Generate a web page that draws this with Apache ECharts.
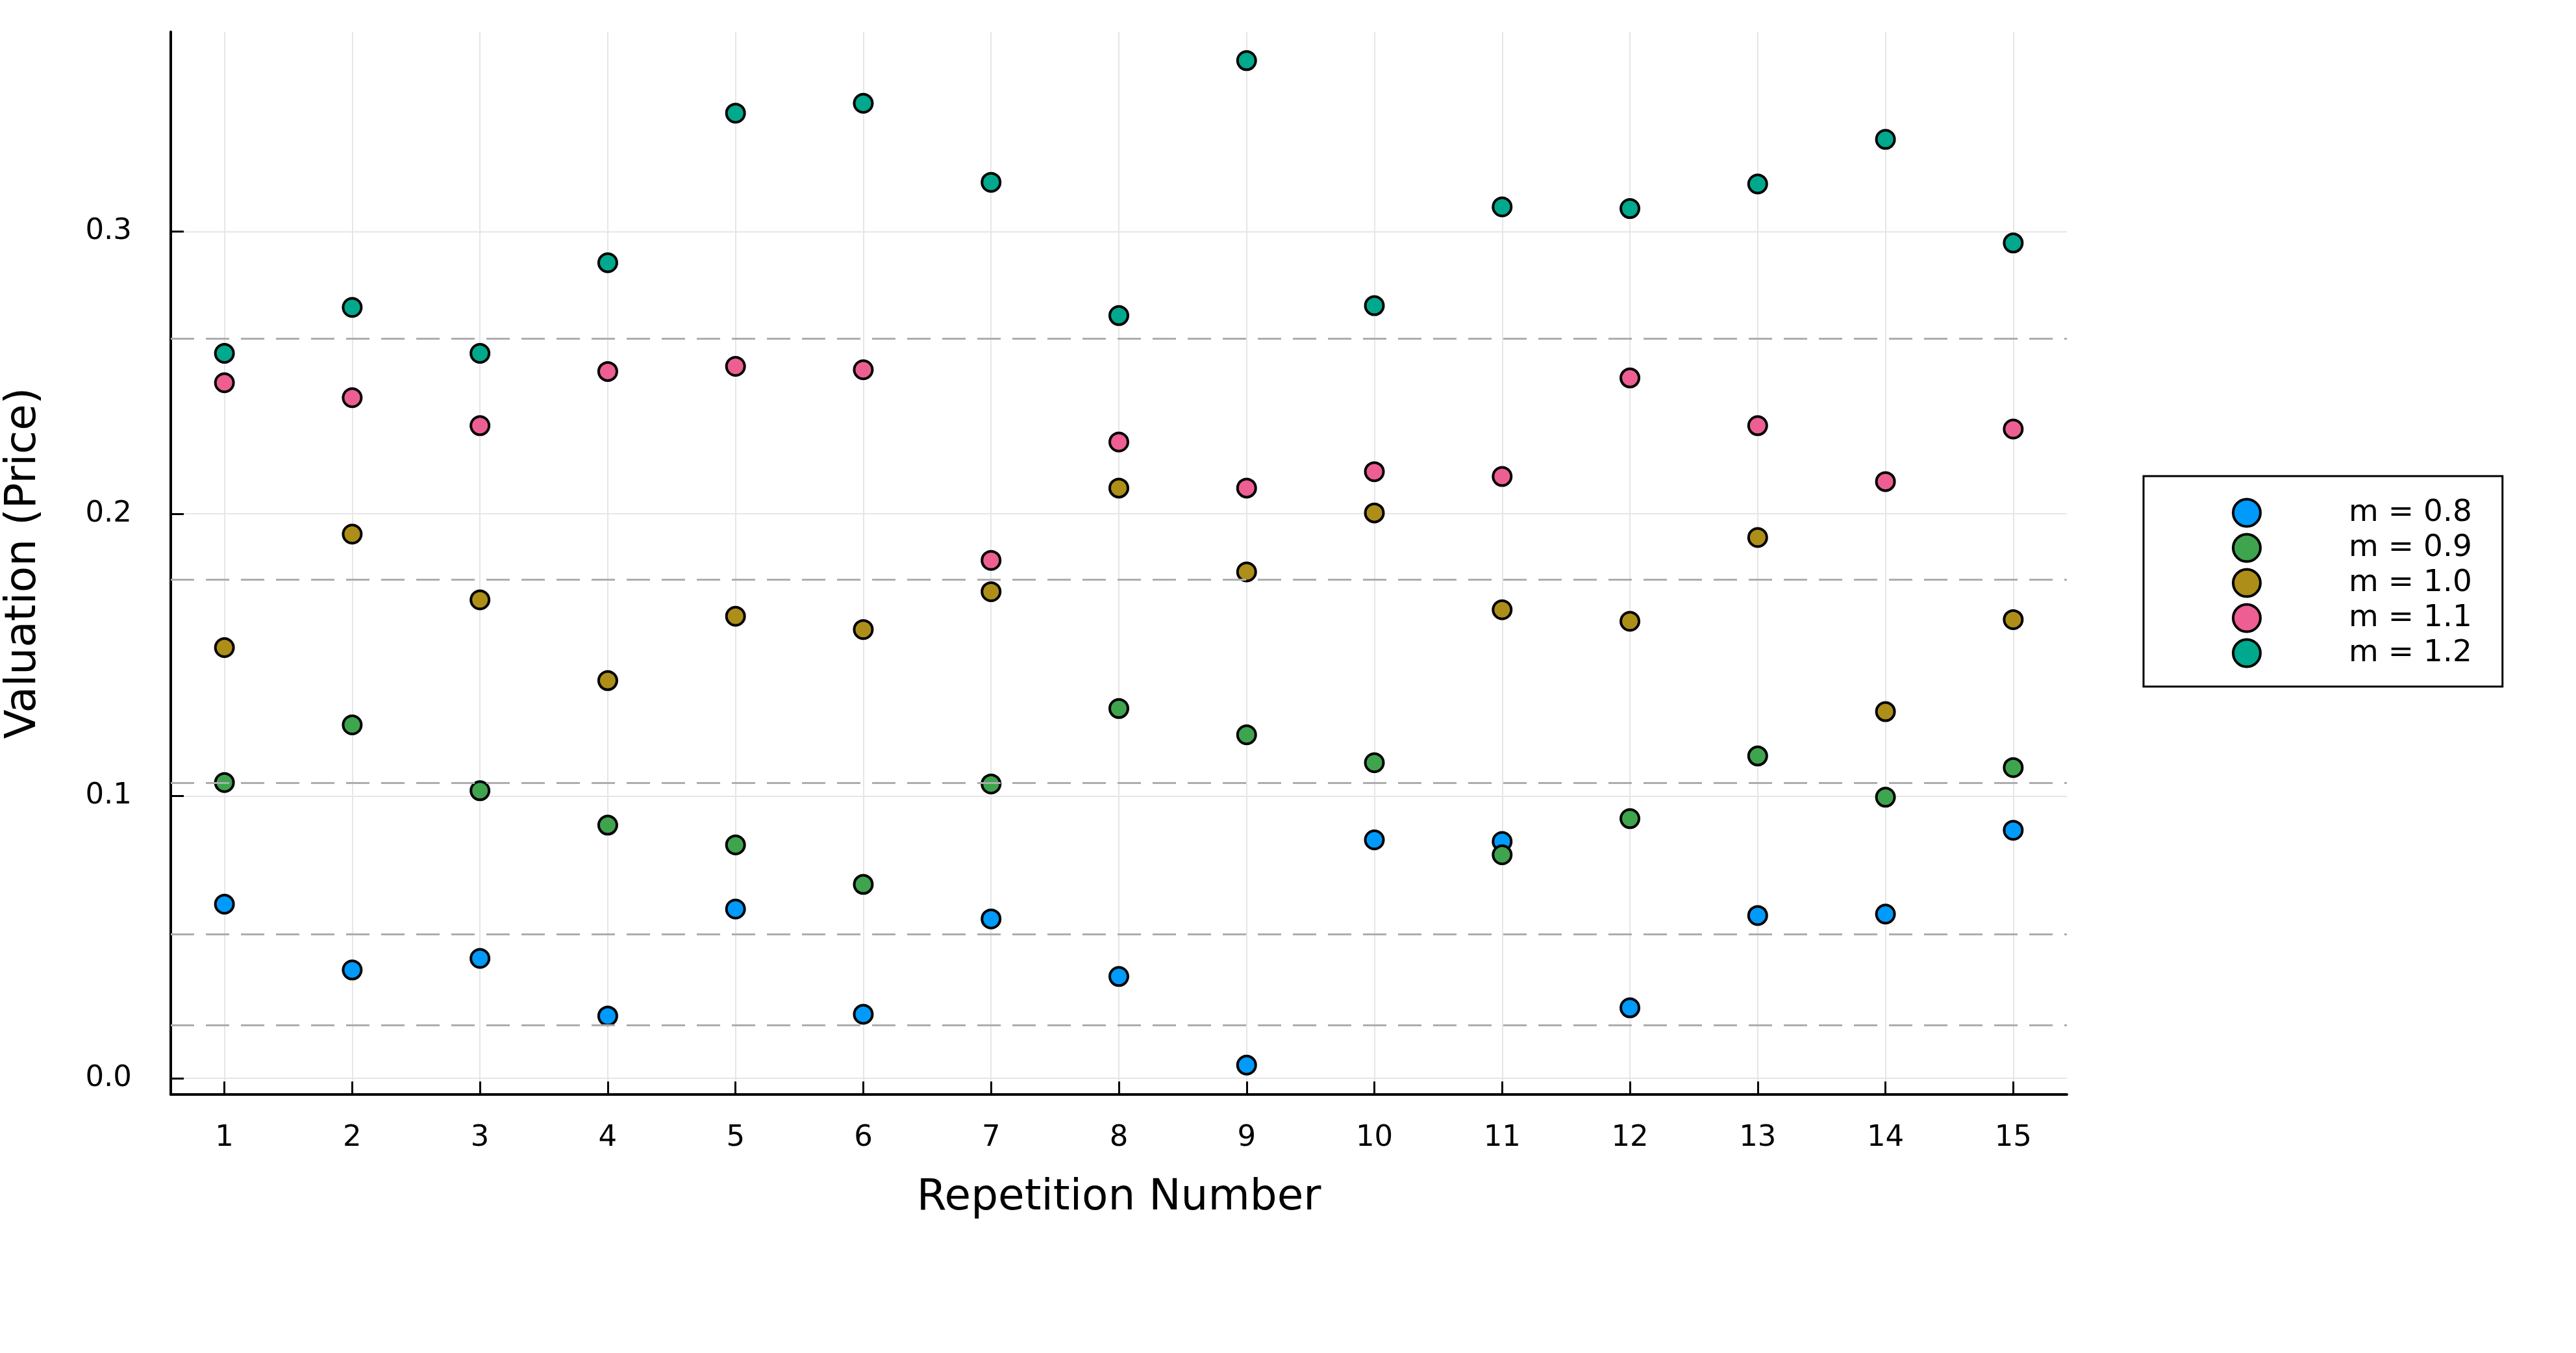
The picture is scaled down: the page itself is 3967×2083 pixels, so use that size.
<!DOCTYPE html>
<html>
<head>
<meta charset="utf-8">
<script src="https://cdn.jsdelivr.net/npm/echarts@6/dist/echarts.min.js"></script>
<style>
  html, body { margin: 0; background: #fff; }
  #chart { width: 3967px; height: 2083px; }
</style>
</head>
<body>
<div id="chart"></div>
<script>
// repetition numbers (x) and valuations per m (y)
var repetitions = [1, 2, 3, 4, 5, 6, 7, 8, 9, 10, 11, 12, 13, 14, 15];
var m08 = [0.0617, 0.0384, 0.0425, 0.0221, 0.0600, 0.0227, 0.0565, 0.0361, 0.0047, 0.0845, 0.0839, 0.0250, 0.0577, 0.0582, 0.0879];
var m09 = [0.1048, 0.1252, 0.1019, 0.0897, 0.0827, 0.0687, 0.1043, 0.1310, 0.1217, 0.1118, 0.0792, 0.0920, 0.1142, 0.0996, 0.1101];
var m10 = [0.1526, 0.1928, 0.1695, 0.1409, 0.1637, 0.1590, 0.1724, 0.2091, 0.1794, 0.2003, 0.1660, 0.1619, 0.1916, 0.1299, 0.1625];
var m11 = [0.2464, 0.2411, 0.2312, 0.2504, 0.2522, 0.2510, 0.1835, 0.2254, 0.2091, 0.2149, 0.2132, 0.2481, 0.2312, 0.2114, 0.2300];
var m12 = [0.2568, 0.2731, 0.2568, 0.2889, 0.3419, 0.3454, 0.3174, 0.2702, 0.3605, 0.2737, 0.3087, 0.3081, 0.3168, 0.3326, 0.2959];
var seriesNames = ['m = 0.8', 'm = 0.9', 'm = 1.0', 'm = 1.1', 'm = 1.2'];
var seriesColors = ['#009AFA', '#3EA44E', '#AC8E18', '#ED5E93', '#00A98D'];
// dashed horizontal reference levels
var refLines = [0.2620, 0.1768, 0.1047, 0.0511, 0.0189];
var yTicks = [0, 0.1, 0.2, 0.3];

var font = 'DejaVu Sans';
var chart = echarts.init(document.getElementById('chart'));

var allValues = [m08, m09, m10, m11, m12];
var series = [{
  // holder for the dashed reference lines, drawn under the points
  type: 'scatter',
  name: 'ref',
  data: [],
  z: 1,
  silent: true,
  markLine: {
    silent: true,
    symbol: 'none',
    precision: 4,
    label: { show: false },
    lineStyle: { color: '#adadad', width: 3, type: [36, 18] },
    data: refLines.map(function (v) { return { yAxis: v }; })
  }
}];
allValues.forEach(function (vals, k) {
  series.push({
    type: 'scatter',
    name: seriesNames[k],
    z: 3,
    symbol: 'circle',
    symbolSize: 28,
    itemStyle: { color: seriesColors[k], borderColor: '#000', borderWidth: 4, opacity: 1 },
    data: repetitions.map(function (r, i) { return [r, vals[i]]; })
  });
});

var option = {
  backgroundColor: '#fff',
  animation: false,
  grid: { left: 263, right: 784, top: 49, bottom: 398, outerBoundsMode: 'none', containLabel: false },
  legend: {
    data: seriesNames,
    orient: 'vertical',
    left: 3301,
    top: 733,
    icon: 'circle',
    itemWidth: 42,
    itemHeight: 42,
    itemGap: 7,
    padding: [33, 47, 28, 136],
    borderColor: '#000',
    borderWidth: 3,
    itemStyle: { borderColor: '#000', borderWidth: 4 },
    textStyle: { fontFamily: font, fontSize: 47, color: '#000', lineHeight: 42, padding: [0, 0, 0, 131] }
  },
  xAxis: {
    type: 'value',
    min: 0.58,
    max: 15.42,
    name: 'Repetition Number',
    nameLocation: 'middle',
    nameGap: 127,
    nameTextStyle: { fontFamily: font, fontSize: 66, color: '#000' },
    axisLine: { onZero: false, lineStyle: { color: '#000', width: 4 } },
    axisTick: { show: true, inside: true, length: 20, customValues: repetitions, lineStyle: { color: '#000', width: 3 } },
    axisLabel: { customValues: repetitions, margin: 45, fontFamily: font, fontSize: 45, color: '#000' },
    splitLine: { show: true, lineStyle: { color: '#e6e6e6', width: 2 } }
  },
  yAxis: {
    type: 'value',
    min: -0.0057,
    max: 0.3707,
    name: 'Valuation (Price)',
    nameLocation: 'middle',
    nameGap: 193,
    nameTextStyle: { fontFamily: font, fontSize: 66, color: '#000' },
    axisLine: { show: true, onZero: false, lineStyle: { color: '#000', width: 4 } },
    axisTick: { show: true, inside: true, length: 20, customValues: yTicks, lineStyle: { color: '#000', width: 3 } },
    axisLabel: {
      customValues: yTicks, margin: 60, fontFamily: font, fontSize: 45, color: '#000',
      formatter: function (v) { return v.toFixed(1); }
    },
    splitLine: { show: true, lineStyle: { color: '#e6e6e6', width: 2 } }
  },
  series: series
};
chart.setOption(option);
</script>
</body>
</html>
